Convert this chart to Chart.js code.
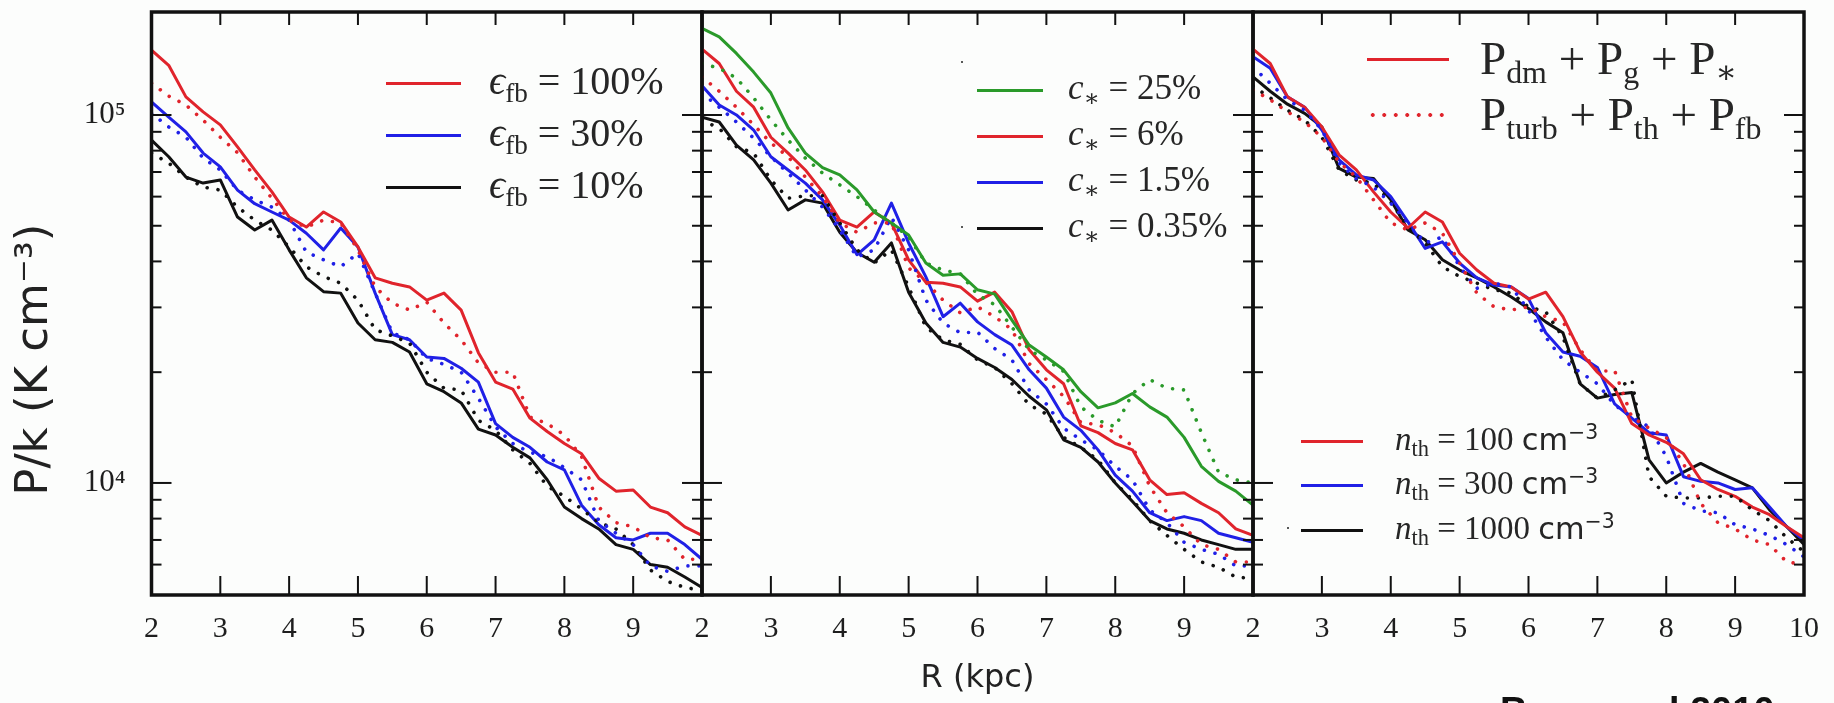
<!DOCTYPE html>
<html>
<head>
<meta charset="utf-8">
<script src="https://cdn.jsdelivr.net/npm/chart.js@4.4.1/dist/chart.umd.min.js"></script>
<style>
  html, body { margin: 0; padding: 0; background: #fcfdfc; }
  #wrap { position: relative; width: 1834px; height: 703px; overflow: hidden; background: #fcfdfc; }
  #wrap canvas { position: absolute; left: 0; top: 0; }
  .leg { position: absolute; display: flex; align-items: center; white-space: nowrap; color: #262626;
         font-family: "Liberation Serif", "DejaVu Serif", serif; z-index: 5; }
  .leg .txt { position: relative; }
  .leg sub { font-size: 0.68em; vertical-align: -0.28em; line-height: 0; }
  .leg sup { font-size: 0.62em; vertical-align: 0.55em; line-height: 0; font-family: "DejaVu Sans", sans-serif; }
  .leg i { font-style: italic; }
  .sans { font-family: "DejaVu Sans", sans-serif; font-size: 0.92em; }
  .key { display: inline-block; flex: none; }
  .dot { position: absolute; width: 2px; height: 2px; background: #222; border-radius: 1px; z-index: 5; }
  #cite { position: absolute; left: 1500px; top: 690px; font: bold 38px "Liberation Sans", Arial, sans-serif;
          color: #111; white-space: nowrap; z-index: 5; }
</style>
</head>
<body>
<div id="wrap">
  <canvas id="c1" width="1834" height="703"></canvas>
  <canvas id="c2" width="1834" height="703"></canvas>
  <canvas id="c3" width="1834" height="703"></canvas>

  <!-- panel 1 legend -->
  <div class="leg" style="left:386px;top:63px;height:40px;font-size:40px;">
    <span class="key" style="width:75px;height:3px;background:#e0242c;"></span>
    <span class="txt" style="margin-left:28px;top:-3px;"><i>ϵ</i><sub>fb</sub> = 100%</span></div>
  <div class="leg" style="left:386px;top:115px;height:40px;font-size:40px;">
    <span class="key" style="width:75px;height:3px;background:#2020e6;"></span>
    <span class="txt" style="margin-left:28px;top:-3px;"><i>ϵ</i><sub>fb</sub> = 30%</span></div>
  <div class="leg" style="left:386px;top:167px;height:40px;font-size:40px;">
    <span class="key" style="width:75px;height:3px;background:#111;"></span>
    <span class="txt" style="margin-left:28px;top:-3px;"><i>ϵ</i><sub>fb</sub> = 10%</span></div>

  <!-- panel 2 legend -->
  <div class="dot" style="left:961px;top:61px;"></div>
  <div class="dot" style="left:961px;top:226px;"></div>
  <div class="leg" style="left:977px;top:72px;height:36px;font-size:35px;">
    <span class="key" style="width:66px;height:3px;background:#2a9a2a;"></span>
    <span class="txt" style="margin-left:25px;top:-2px;"><i>c</i><sub>∗</sub> = 25%</span></div>
  <div class="leg" style="left:977px;top:118px;height:36px;font-size:35px;">
    <span class="key" style="width:66px;height:3px;background:#e0242c;"></span>
    <span class="txt" style="margin-left:25px;top:-2px;"><i>c</i><sub>∗</sub> = 6%</span></div>
  <div class="leg" style="left:977px;top:164px;height:36px;font-size:35px;">
    <span class="key" style="width:66px;height:3px;background:#2020e6;"></span>
    <span class="txt" style="margin-left:25px;top:-2px;"><i>c</i><sub>∗</sub> = 1.5%</span></div>
  <div class="leg" style="left:977px;top:210px;height:36px;font-size:35px;">
    <span class="key" style="width:66px;height:3px;background:#111;"></span>
    <span class="txt" style="margin-left:25px;top:-2px;"><i>c</i><sub>∗</sub> = 0.35%</span></div>

  <!-- panel 3 legends -->
  <div class="leg" style="left:1367px;top:38px;height:42px;font-size:47px;">
    <span class="key" style="width:82px;height:3px;background:#e0242c;"></span>
    <span class="txt" style="margin-left:31px;top:-1px;">P<sub>dm</sub> + P<sub>g</sub> + P<sub>∗</sub></span></div>
  <div class="leg" style="left:1367px;top:94px;height:42px;font-size:47px;">
    <span class="key" style="width:82px;height:4px;background:radial-gradient(circle, #e0242c 1.6px, rgba(0,0,0,0) 2.2px) repeat-x;background-size:11.5px 4px;"></span>
    <span class="txt" style="margin-left:31px;top:-1px;">P<sub>turb</sub> + P<sub>th</sub> + P<sub>fb</sub></span></div>

  <div class="dot" style="left:1287px;top:527px;"></div>
  <div class="leg" style="left:1301px;top:424px;height:34px;font-size:33px;">
    <span class="key" style="width:62px;height:3px;background:#e0242c;"></span>
    <span class="txt" style="margin-left:32px;top:-2px;"><i>n</i><sub>th</sub> = 100 <span class="sans">cm</span><sup>−3</sup></span></div>
  <div class="leg" style="left:1301px;top:468px;height:34px;font-size:33px;">
    <span class="key" style="width:62px;height:3px;background:#2020e6;"></span>
    <span class="txt" style="margin-left:32px;top:-2px;"><i>n</i><sub>th</sub> = 300 <span class="sans">cm</span><sup>−3</sup></span></div>
  <div class="leg" style="left:1301px;top:513px;height:34px;font-size:33px;">
    <span class="key" style="width:62px;height:3px;background:#111;"></span>
    <span class="txt" style="margin-left:32px;top:-2px;"><i>n</i><sub>th</sub> = 1000 <span class="sans">cm</span><sup>−3</sup></span></div>

  <div id="cite">Bournaud 2010</div>
</div>

<script>
// ---------------- data ----------------
const R_KPC = [2, 2.25, 2.5, 2.75, 3, 3.25, 3.5, 3.75, 4, 4.25, 4.5, 4.75, 5, 5.25, 5.5, 5.75, 6,
               6.25, 6.5, 6.75, 7, 7.25, 7.5, 7.75, 8, 8.25, 8.5, 8.75, 9, 9.25, 9.5, 9.75, 10];

// panel 1 : feedback efficiency
const EPS100_SOLID = [150000,136500,112000,102000,94000,81900,70900,61800,52800,49600,54500,51200,43800,36100,34900,34100,31400,
                      32800,29500,22600,18800,18000,15000,13800,12800,12000,10300,9500,9570,8600,8300,7600,7200];
const EPS100_DOT   = [122000,112600,106500,96900,87000,79000,67800,59400,51800,49600,51800,50900,43000,34100,30800,29500,31000,
                      27200,24500,21200,20000,20000,15100,14500,13500,11800,8600,7800,7600,7100,7000,6200,6200];
const EPS30_SOLID  = [108500,98700,90000,78800,72300,62500,57400,54500,51800,47700,43000,49300,43800,32800,25300,24500,22000,
                      21800,20500,18800,14500,13300,12500,11400,10850,8700,7700,7100,7000,7300,7300,6800,6200];
const EPS30_DOT    = [101000,92800,87000,76400,70900,62500,58800,56200,51800,42400,40400,38700,42100,32800,25600,24500,21800,
                      21000,20000,17000,14200,12800,12100,11800,11000,10200,7900,7300,6800,5950,5750,5950,5950];
const EPS10_SOLID  = [85500,77000,67800,65300,66600,52800,48700,51800,43000,36100,33100,32800,27200,24500,24100,22700,18600,
                      17700,16500,14000,13500,12500,11700,10200,8600,8000,7500,6800,6600,6000,5900,5550,5200];
const EPS10_DOT    = [78800,74000,67800,63700,62500,56200,51800,48700,43800,38700,36400,34900,31400,26100,25100,24000,20000,
                      18100,17900,14800,13900,12300,11300,9800,9200,8500,7800,7500,6800,5800,5400,5200,5100];

// panel 2 : star formation efficiency
const C25_SOLID  = [172000,163000,147000,130800,114700,92200,78800,71900,68700,62600,54500,50900,47200,39600,36700,37000,33500,
                    32600,27700,23700,22000,20300,17700,16000,16500,17500,16100,15100,13300,11100,10100,9500,8700];
const C25_DOT    = [138000,134000,126000,111300,96900,85500,76400,69500,64600,60000,55200,50900,46600,39600,37900,37000,32500,
                    30500,26500,23000,21600,20100,16100,14800,14200,17500,19100,18100,17900,13700,10700,10200,10000];
const C6_SOLID   = [151000,138000,116000,105000,87000,78800,70900,61800,51800,49600,54500,50900,40400,35100,34900,34100,31200,
                    33000,29200,23000,20300,18600,14300,13700,12800,12300,10200,9300,9400,8800,8300,7500,7200];
const C6_DOT     = [127000,116000,105000,94000,84000,77000,67800,60000,50900,48000,50900,50900,38400,35100,31400,29000,30100,
                    28300,26100,21100,19100,17200,14600,14400,13700,12600,9800,8300,7600,6800,6600,6100,6100];
const C15_SOLID  = [120000,106500,100000,91000,77000,70900,65300,58800,50200,41700,45800,57600,44900,36300,28300,30800,27400,
                    25300,23700,20300,18100,15100,13900,12300,10500,9500,8300,7900,8100,7900,7300,7100,6900];
const C15_DOT    = [114700,105000,95700,86500,77000,69500,62600,56200,48700,41100,43000,52800,43000,31400,27200,25600,25700,
                    23200,21600,17900,16400,14100,13100,12300,11100,10200,8450,7800,6900,6600,6400,5950,5950];
const C035_SOLID = [98700,95700,82800,75500,65300,55200,58800,57600,48000,42300,39800,44900,33000,27200,24100,23400,21800,
                    20600,19100,17200,15800,13100,12500,11400,10000,8900,7900,7500,7300,7000,6800,6600,6600];
const C035_DOT   = [96900,92000,82000,78800,66600,59400,60300,60300,50900,43000,39600,43000,34100,26500,24500,23800,21600,
                    20600,18600,16300,15400,13300,12500,11550,10000,9000,7900,7200,6600,6100,5900,5550,5500];

// panel 3 : density threshold
const N100_SOLID  = [151000,138000,112000,105000,92800,77900,70900,61800,54500,49300,54500,51200,42100,37900,34900,34100,31600,
                     33000,28300,22700,20000,18100,14500,13500,12900,12000,10200,9600,9200,8600,8200,7600,7100];
const N100_DOT    = [117000,110000,102000,95700,87000,74400,67800,58800,50900,48700,50900,47700,39600,32800,30100,29500,30100,
                     28300,27400,23000,20100,20200,15100,14100,13300,11300,8800,7800,7500,7000,6800,6100,6000];
const N300_SOLID  = [144000,134000,112000,105000,91000,75500,68700,66600,60000,51200,43400,45200,39600,36100,34500,34100,31700,
                     25600,22700,22100,20600,16400,15000,13700,13500,10400,10100,10000,9600,9700,8600,7600,7000];
const N300_DOT    = [135000,122000,110000,103000,91000,74000,67200,63700,57600,50900,44900,46600,38700,33800,34900,34100,29500,
                     24900,21600,20000,18600,16300,15100,14200,11800,8800,8400,8300,7700,7500,7200,6800,6300];
const N1000_SOLID = [127000,116000,107000,101000,92800,71600,67800,67200,58800,48700,45800,40400,37900,36100,34100,32000,29800,
                     27400,25600,18600,17000,17400,17600,11550,10000,10700,11300,10700,10200,9700,8450,7600,6800];
const N1000_DOT   = [120000,111300,103000,96900,87000,70900,66600,65300,58000,49600,44900,38700,36400,34900,33500,32800,30100,
                     29200,24900,18600,17000,17900,19100,10400,9200,9100,9100,9200,9200,8450,7900,7100,6500];

// axes
const X_MIN = 2, X_MAX = 10;
const X_TICK_VALUES = [2, 3, 4, 5, 6, 7, 8, 9, 10];
const Y_MIN = 4960, Y_MAX = 190500;
const Y_LABEL_VALUES = [10000, 100000];
const Y_LABEL_TEXT = { 10000: '10\u2074', 100000: '10\u2075' };
const Y_MARK_VALUES = [6000, 7000, 8000, 9000, 10000, 20000, 30000, 40000, 50000, 60000, 70000, 80000, 90000, 100000];
const X_TITLE = 'R (kpc)';
const Y_TITLE = 'P/k (K cm\u207B\u00B3)';

// ---------------- layout / style ----------------
const W = 1834, H = 703;
const PLOT_TOP = 12, PLOT_BOTTOM = 595;
const PANEL_X = [[151.5, 702], [702, 1253], [1253, 1804]];
const Y_AXIS_W = 151.5;
const RED = '#e0242c', BLUE = '#2020e6', BLACK = '#111111', GREEN = '#2a9a2a';

const framePlugin = {
  id: 'frame',
  afterDatasetsDraw(chart) {
    const { ctx, chartArea: a, scales: { x, y } } = chart;
    ctx.save();
    ctx.strokeStyle = '#111';
    ctx.lineCap = 'butt';
    ctx.lineWidth = 2;
    const seg = (x1, y1, x2, y2) => { ctx.beginPath(); ctx.moveTo(x1, y1); ctx.lineTo(x2, y2); ctx.stroke(); };
    X_TICK_VALUES.forEach(v => {
      if (v <= X_MIN || v >= X_MAX) return;
      const px = x.getPixelForValue(v);
      seg(px, a.top, px, a.top + 13);
      seg(px, a.bottom, px, a.bottom - 19);
    });
    Y_MARK_VALUES.forEach(v => {
      const py = y.getPixelForValue(v);
      const len = Y_LABEL_VALUES.includes(v) ? 20 : 10;
      seg(a.left, py, a.left + len, py);
      seg(a.right, py, a.right - len, py);
    });
    ctx.lineWidth = 3.5;
    ctx.strokeRect(a.left, a.top, a.right - a.left, a.bottom - a.top);
    ctx.restore();
  }
};

function makePanel(idx, canvasId, series) {
  const [L, Rt] = PANEL_X[idx];
  const datasets = series.map(s => ({
    data: R_KPC.map((r, i) => ({ x: r, y: s.values[i] })),
    borderColor: s.color,
    borderWidth: s.dotted ? 3.6 : 3,
    borderDash: s.dotted ? [0.01, 11] : [],
    borderCapStyle: s.dotted ? 'round' : 'butt',
    borderJoinStyle: 'round',
    pointRadius: 0,
    tension: 0,
    fill: false
  }));
  return new Chart(document.getElementById(canvasId), {
    type: 'line',
    data: { datasets },
    options: {
      responsive: false,
      animation: false,
      devicePixelRatio: 1,
      events: [],
      layout: { padding: { left: L - Y_AXIS_W, top: PLOT_TOP, right: W - Rt, bottom: 0 } },
      plugins: { legend: { display: false }, tooltip: { enabled: false } },
      scales: {
        x: {
          type: 'linear', position: 'bottom', min: X_MIN, max: X_MAX,
          grid: { display: false, drawTicks: false },
          border: { display: false },
          afterBuildTicks: (s) => { s.ticks = X_TICK_VALUES.map(v => ({ value: v })); },
          ticks: {
            autoSkip: false, maxRotation: 0, padding: 16, color: '#1e1e1e',
            font: { family: '"Liberation Serif", "DejaVu Serif", serif', size: 30 },
            callback: (v) => (v === 10 && idx < 2) ? '' : String(v)
          },
          afterFit: (s) => { s.height = H - PLOT_BOTTOM; s.paddingLeft = 0; s.paddingRight = 0; },
          title: {
            display: idx === 1, text: X_TITLE, color: '#222',
            font: { family: '"DejaVu Sans", sans-serif', size: 32 },
            padding: { top: 0, bottom: 5 }
          }
        },
        y: {
          type: 'logarithmic', position: 'left', min: Y_MIN, max: Y_MAX,
          grid: { display: false, drawTicks: false },
          border: { display: false },
          afterBuildTicks: (s) => { s.ticks = Y_LABEL_VALUES.map(v => ({ value: v })); },
          ticks: {
            display: idx === 0, autoSkip: false, padding: 26, color: '#1e1e1e',
            font: { family: '"Liberation Serif", "DejaVu Serif", serif', size: 31 },
            callback: (v) => Y_LABEL_TEXT[v] || ''
          },
          afterFit: (s) => { s.width = Y_AXIS_W; s.paddingTop = 0; s.paddingBottom = 0; },
          title: {
            display: idx === 0, text: Y_TITLE + '\u2002\u2002\u2002\u2002\u2002', color: '#222',
            font: { family: '"DejaVu Sans", sans-serif', size: 45 },
            padding: { top: 8, bottom: 0 }
          }
        }
      }
    },
    plugins: [framePlugin]
  });
}

makePanel(0, 'c1', [
  { values: EPS100_DOT, color: RED, dotted: true },
  { values: EPS30_DOT, color: BLUE, dotted: true },
  { values: EPS10_DOT, color: BLACK, dotted: true },
  { values: EPS100_SOLID, color: RED },
  { values: EPS30_SOLID, color: BLUE },
  { values: EPS10_SOLID, color: BLACK }
]);
makePanel(1, 'c2', [
  { values: C25_DOT, color: GREEN, dotted: true },
  { values: C6_DOT, color: RED, dotted: true },
  { values: C15_DOT, color: BLUE, dotted: true },
  { values: C035_DOT, color: BLACK, dotted: true },
  { values: C25_SOLID, color: GREEN },
  { values: C6_SOLID, color: RED },
  { values: C15_SOLID, color: BLUE },
  { values: C035_SOLID, color: BLACK }
]);
makePanel(2, 'c3', [
  { values: N100_DOT, color: RED, dotted: true },
  { values: N300_DOT, color: BLUE, dotted: true },
  { values: N1000_DOT, color: BLACK, dotted: true },
  { values: N100_SOLID, color: RED },
  { values: N300_SOLID, color: BLUE },
  { values: N1000_SOLID, color: BLACK }
]);
</script>
</body>
</html>
